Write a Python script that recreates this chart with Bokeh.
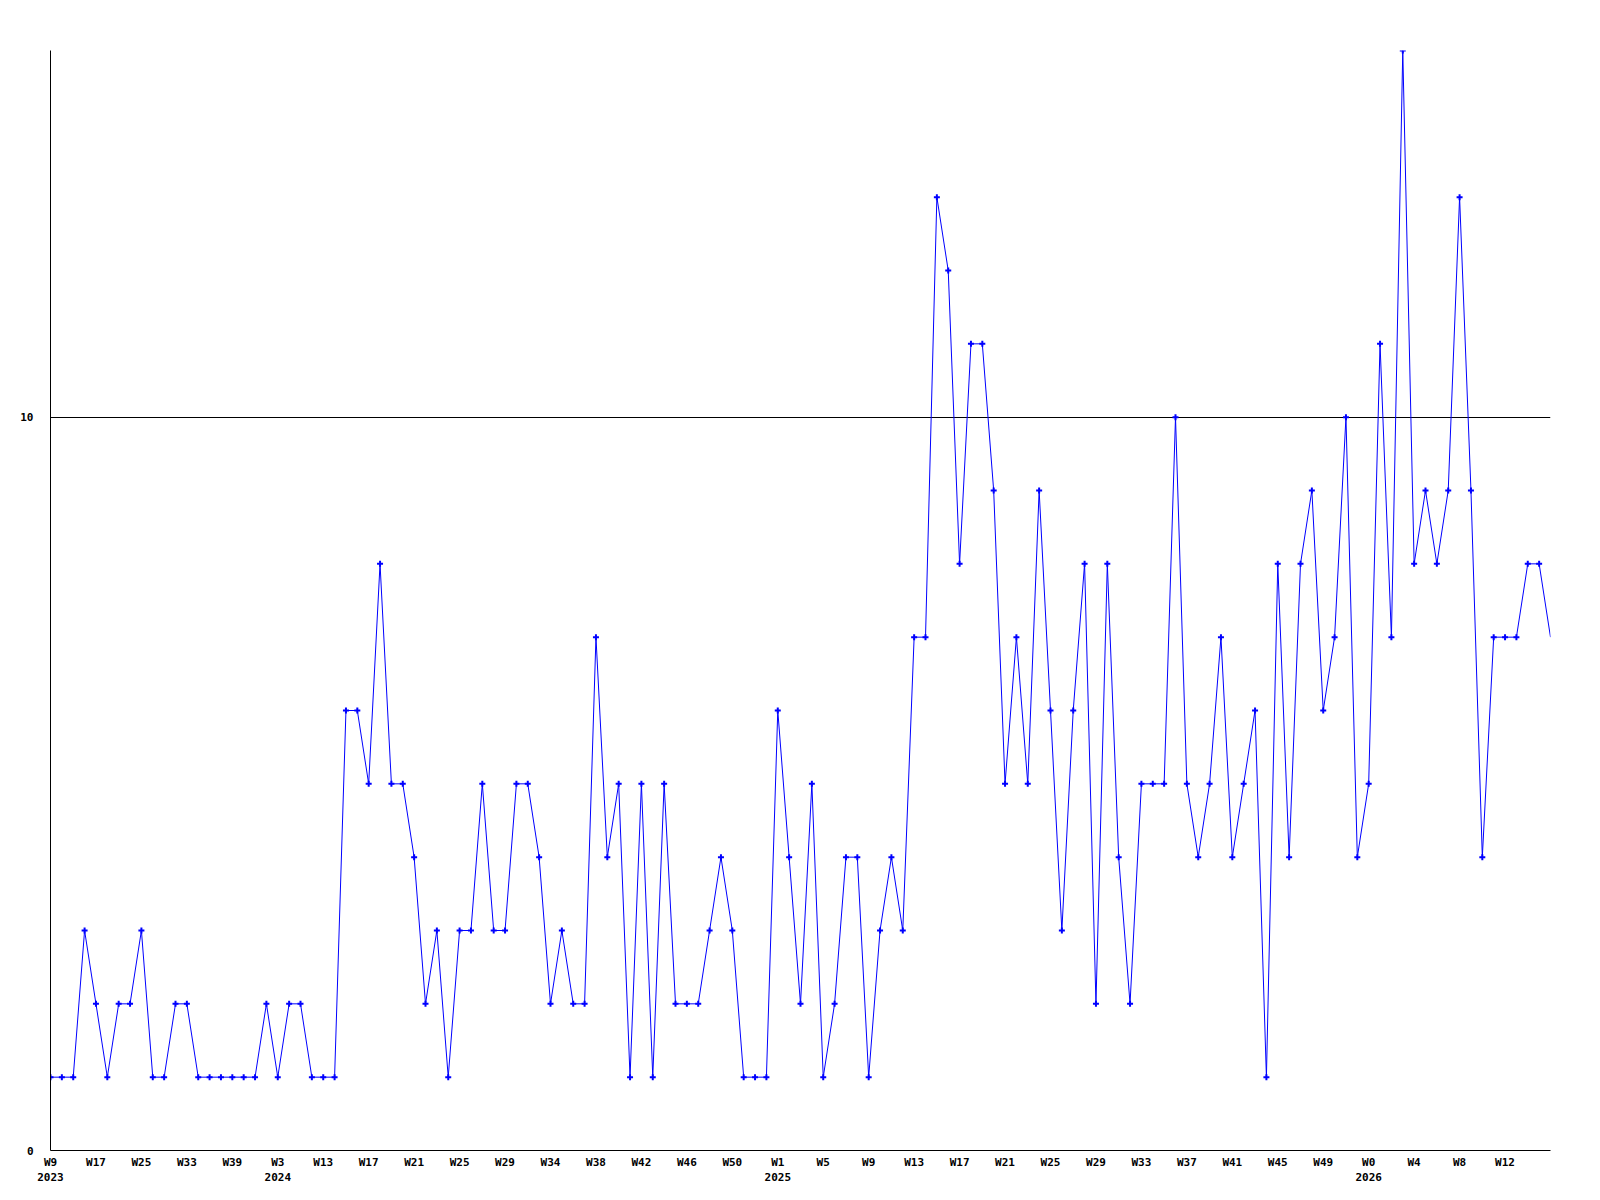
from bokeh.plotting import figure
from bokeh.models import Range1d, FixedTicker, LinearAxis
from bokeh.embed import file_html
from bokeh.resources import INLINE

# weekly counts (one value per sample)
values = [
    1, 1, 1, 3, 2, 1, 2, 2, 3, 1,
    1, 2, 2, 1, 1, 1, 1, 1, 1, 2,
    1, 2, 2, 1, 1, 1, 6, 6, 5, 8,
    5, 5, 4, 2, 3, 1, 3, 3, 5, 3,
    3, 5, 5, 4, 2, 3, 2, 2, 7, 4,
    5, 1, 5, 1, 5, 2, 2, 2, 3, 4,
    3, 1, 1, 1, 6, 4, 2, 5, 1, 2,
    4, 4, 1, 3, 4, 3, 7, 7, 13, 12,
    8, 11, 11, 9, 5, 7, 5, 9, 6, 3,
    6, 8, 2, 8, 4, 2, 5, 5, 5, 10,
    5, 4, 5, 7, 4, 5, 6, 1, 8, 4,
    8, 9, 6, 7, 10, 4, 5, 11, 7, 15,
    8, 9, 8, 9, 13, 9, 4, 7, 7, 7,
    8, 8, 7,
]

# tick labels: one every 4th sample
week_labels = ["W9", "W17", "W25", "W33", "W39", "W3", "W13", "W17", "W21",
               "W25", "W29", "W34", "W38", "W42", "W46", "W50", "W1", "W5",
               "W9", "W13", "W17", "W21", "W25", "W29", "W33", "W37", "W41",
               "W45", "W49", "W0", "W4", "W8", "W12"]
year_labels = ["2023", "", "", "", "", "2024", "", "", "", "", "", "", "", "",
               "", "", "2025", "", "", "", "", "", "", "", "", "", "", "", "",
               "2026", "", "", ""]
label_step = 4
y_ticks = [0, 10]

xs = list(range(len(values)))
n = len(values)

p = figure(width=1592, height=1192, output_backend="svg", toolbar_location=None,
           x_range=Range1d(0, n - 1), y_range=Range1d(0, 15),
           min_border_left=50, min_border_right=42, min_border_top=50,
           min_border_bottom=42, x_axis_location=None, y_axis_location=None)
p.outline_line_color = None
p.background_fill_color = "white"
p.border_fill_color = "white"

font = "DejaVu Sans Mono"

# week axis
tick_pos = [i * label_step for i in range(len(week_labels))]
xa = LinearAxis(ticker=FixedTicker(ticks=tick_pos),
                major_label_overrides={t: l for t, l in zip(tick_pos, week_labels)})
xa.axis_line_color = "black"
xa.axis_line_width = 1
xa.major_tick_line_color = None
xa.minor_tick_line_color = None
xa.major_tick_out = 0
xa.major_tick_in = 0
xa.major_label_standoff = 5
xa.major_label_text_font = font
xa.major_label_text_font_style = "bold"
xa.major_label_text_font_size = "11px"
xa.major_label_text_color = "black"
p.add_layout(xa, "below")

# year axis
ypos = [t for t, l in zip(tick_pos, year_labels) if l]
ylab = [l for l in year_labels if l]
ya2 = LinearAxis(ticker=FixedTicker(ticks=ypos),
                 major_label_overrides={t: l for t, l in zip(ypos, ylab)})
ya2.axis_line_color = None
ya2.major_tick_line_color = None
ya2.minor_tick_line_color = None
ya2.major_tick_out = 0
ya2.major_tick_in = 0
ya2.major_label_standoff = 1
ya2.major_label_text_font = font
ya2.major_label_text_font_style = "bold"
ya2.major_label_text_font_size = "11px"
ya2.major_label_text_color = "black"
p.add_layout(ya2, "below")

# y axis
yax = LinearAxis(ticker=FixedTicker(ticks=y_ticks))
yax.axis_line_color = "black"
yax.major_tick_line_color = None
yax.minor_tick_line_color = None
yax.major_tick_out = 0
yax.major_tick_in = 0
yax.major_label_standoff = 17
yax.major_label_text_font = font
yax.major_label_text_font_style = "bold"
yax.major_label_text_font_size = "11px"
yax.major_label_text_color = "black"
p.add_layout(yax, "left")

# grid: only the line at 10
p.xgrid.visible = False
p.ygrid.ticker = FixedTicker(ticks=[10])
p.ygrid.grid_line_color = "black"
p.ygrid.grid_line_width = 1
p.ygrid.grid_line_alpha = 1.0

p.line(xs, values, line_color="#0000FF", line_width=1)
p.scatter(xs[:-1], values[:-1], marker="cross", size=6, line_width=2,
          line_color="#0000FF")

open("out.html", "w").write(file_html(p, INLINE))
